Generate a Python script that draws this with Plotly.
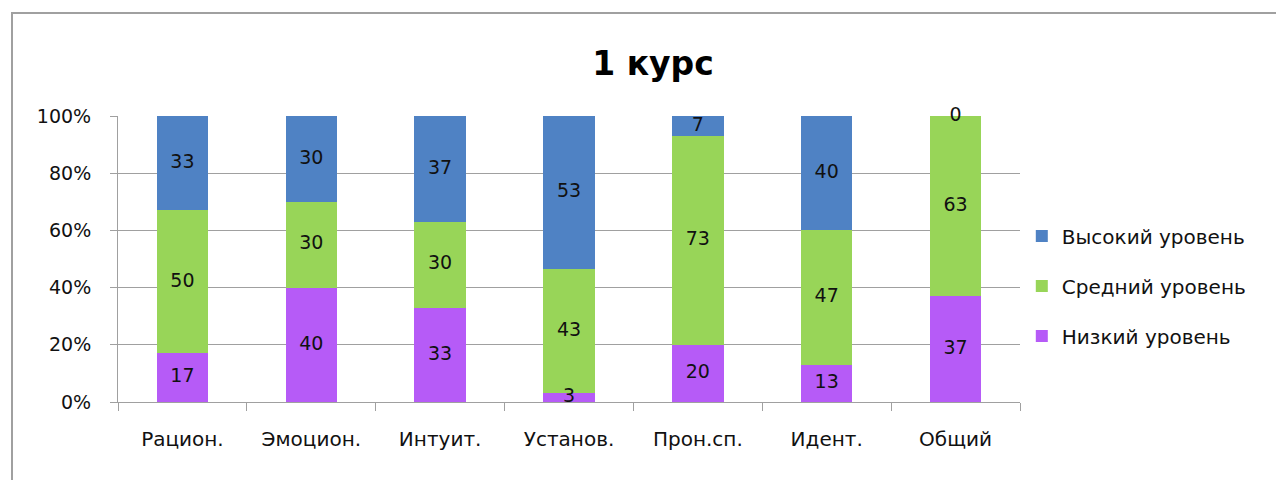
import plotly.graph_objects as go

categories = ["Рацион.", "Эмоцион.", "Интуит.", "Установ.", "Прон.сп.", "Идент.", "Общий"]
low = [17, 40, 33, 3, 20, 13, 37]
mid = [50, 30, 30, 43, 73, 47, 63]
high = [33, 30, 37, 53, 7, 40, 0]
series_names = ["Низкий уровень", "Средний уровень", "Высокий уровень"]
y_ticks = [0, 20, 40, 60, 80, 100]
y_tick_labels = ["0%", "20%", "40%", "60%", "80%", "100%"]

colors = ["#B65BF7", "#98D558", "#4F82C4"]
FONT = "DejaVu Sans"

W, H = 1276, 472
L, T = 110, 108
PW, PH = 902, 286
R = W - L - PW
B = H - T - PH

series = [low, mid, high]
totals = [sum(v) for v in zip(*series)]

fig = go.Figure()
for i, (name, vals) in enumerate(zip(series_names, series)):
    fig.add_trace(go.Bar(
        x=categories, y=vals, name=name,
        marker=dict(color=colors[i], line=dict(width=0)),
        width=0.4, legendgroup=name, legendrank=len(series_names) - i,
    ))

# labels centred in each segment (normalised to 100%)
lx, ly, lt = [], [], []
for j, cat in enumerate(categories):
    base = 0.0
    for vals in series:
        h = vals[j] * 100.0 / totals[j]
        lx.append(cat)
        ly.append(base + h / 2)
        lt.append(str(vals[j]))
        base += h
fig.add_trace(go.Scatter(
    x=lx, y=ly, text=lt, mode="text", showlegend=False, hoverinfo="skip",
    cliponaxis=False,
    textfont=dict(family=FONT, size=19, color="#111111"),
))

fig.update_layout(
    width=W, height=H,
    barmode="stack", barnorm="percent",
    paper_bgcolor="white", plot_bgcolor="white",
    margin=dict(l=L, r=R, t=T, b=B),
    font=dict(family=FONT, size=19, color="#111111"),
    title=dict(text="<b>1 курс</b>", x=645 / W, xref="container", xanchor="center",
               y=1 - 55 / H, yref="container", yanchor="middle",
               font=dict(family=FONT, size=33, color="#000000")),
    legend=dict(x=1.002, xanchor="left", y=(PH - (278 - T)) / PH, yanchor="middle",
                traceorder="grouped", tracegroupgap=21,
                font=dict(family=FONT, size=20, color="#111111"),
                itemwidth=30),
    showlegend=True,
    shapes=[dict(type="rect", xref="paper", yref="paper",
                 x0=(4 - L) / PW, x1=(W + 20 - L) / PW,
                 y0=-(B + 20) / PH, y1=(T + PH - 5) / PH,
                 line=dict(color="#A0A0A0", width=2), fillcolor="rgba(0,0,0,0)",
                 layer="below")],
)
fig.update_yaxes(range=[0, 100], tickvals=y_ticks, ticktext=y_tick_labels,
                 showgrid=True, gridcolor="#A0A0A0", gridwidth=1,
                 showline=True, linecolor="#A0A0A0", linewidth=1,
                 ticks="outside", ticklen=7, tickcolor="#A0A0A0",
                 ticklabelstandoff=15, zeroline=False,
                 tickfont=dict(family=FONT, size=19, color="#111111"))
fig.update_xaxes(showline=True, linecolor="#A0A0A0", linewidth=1,
                 ticks="outside", ticklen=8, tickcolor="#A0A0A0",
                 tickson="boundaries", ticklabelstandoff=19,
                 tickfont=dict(family=FONT, size=20, color="#111111"))

fig.write_html("out.html")
